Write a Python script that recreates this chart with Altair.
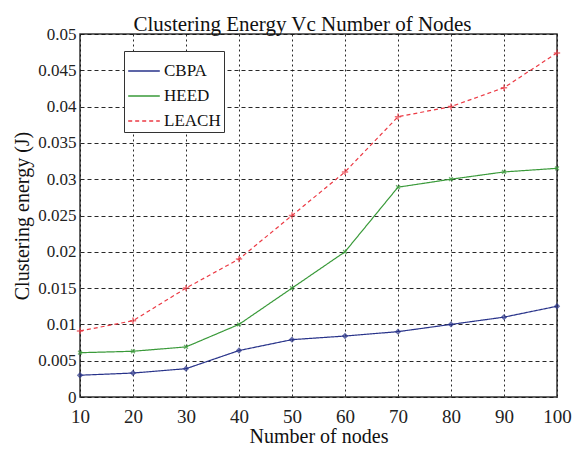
import altair as alt
import pandas as pd

nodes = [10, 20, 30, 40, 50, 60, 70, 80, 90, 100]
cbpa = [0.0030, 0.0033, 0.0039, 0.0064, 0.0079, 0.0084, 0.0090, 0.0100, 0.0110, 0.0125]
heed = [0.0061, 0.0063, 0.0069, 0.0100, 0.0150, 0.0200, 0.0289, 0.0300, 0.0310, 0.0315]
leach = [0.0091, 0.0105, 0.0150, 0.0190, 0.0250, 0.0310, 0.0386, 0.0400, 0.0426, 0.0474]
series = ["CBPA", "HEED", "LEACH"]
colors = ["#28338a", "#3a9a3a", "#ec3a44"]
shapes = ["diamond", "M-1,-1L1,1M-1,1L1,-1", "M-1,0L1,0M0,-1L0,1"]
sizes = [18, 14, 40]
y_ticks = [0, 0.005, 0.01, 0.015, 0.02, 0.025, 0.03, 0.035, 0.04, 0.045, 0.05]

rows = []
for name, vals in zip(series, [cbpa, heed, leach]):
    for n, v in zip(nodes, vals):
        rows.append({"nodes": n, "energy": v, "series": name})
df = pd.DataFrame(rows)

FONT = "Liberation Serif"

x = alt.X("nodes:Q", scale=alt.Scale(domain=[10, 100], nice=False),
          axis=alt.Axis(values=nodes, title="Number of nodes", labelPadding=10,
                        labelFontSize=19, titleFontSize=20, labelFlush=False,
                        titlePadding=0, gridDash=[2, 3]))
y = alt.Y("energy:Q", scale=alt.Scale(domain=[0, 0.05], nice=False),
          axis=alt.Axis(values=y_ticks, title="Clustering energy (J)",
                        labelExpr="format(datum.value, '~g')", labelPadding=4,
                        labelFontSize=17, titleFontSize=20, labelFlush=False,
                        titlePadding=5, gridDash=[4, 3]))

leg = dict(title=None, orient="none", legendX=44, legendY=17,
           symbolType="stroke", symbolSize=1000, symbolStrokeWidth=1.4,
           strokeColor="#333", fillColor="white", padding=3,
           labelFontSize=17, labelFont=FONT, labelColor="#111", rowPadding=-12,
           labelOffset=3)
color = alt.Color("series:N", scale=alt.Scale(domain=series, range=colors),
                  legend=alt.Legend(**leg))
dash = alt.StrokeDash("series:N", scale=alt.Scale(domain=series, range=[[1, 0], [1, 0], [4, 3]]),
                      legend=alt.Legend(**leg))

lines = alt.Chart(df).mark_line(strokeWidth=1.2).encode(x=x, y=y, color=color, strokeDash=dash)

layers = [lines]
for name, c, s, sz in zip(series, colors, shapes, sizes):
    layers.append(
        alt.Chart(df).transform_filter(alt.datum.series == name)
        .mark_point(filled=False, strokeWidth=1.5, color=c, shape=s, size=sz)
        .encode(x=x, y=y)
    )

chart = alt.layer(*layers).properties(
    width=477, height=363,
    title=alt.TitleParams("Clustering Energy Vc Number of Nodes", font=FONT, fontSize=21,
                          fontWeight="normal", offset=2, dy=12, dx=-16, color="#111", frame="group"),
    autosize=alt.AutoSizeParams(type="none"),
    padding={"left": 72, "top": 26, "right": 15, "bottom": 49},
    background="white",
).configure_view(stroke="#333", strokeWidth=1.5).configure_axis(
    labelFont=FONT, titleFont=FONT,
    titleFontWeight="normal", labelColor="#222", titleColor="#111",
    grid=True, gridColor="#111", gridOpacity=0.9, domain=False, ticks=False,
)

chart.save("out.html", embed_options={"renderer": "svg", "actions": False})
